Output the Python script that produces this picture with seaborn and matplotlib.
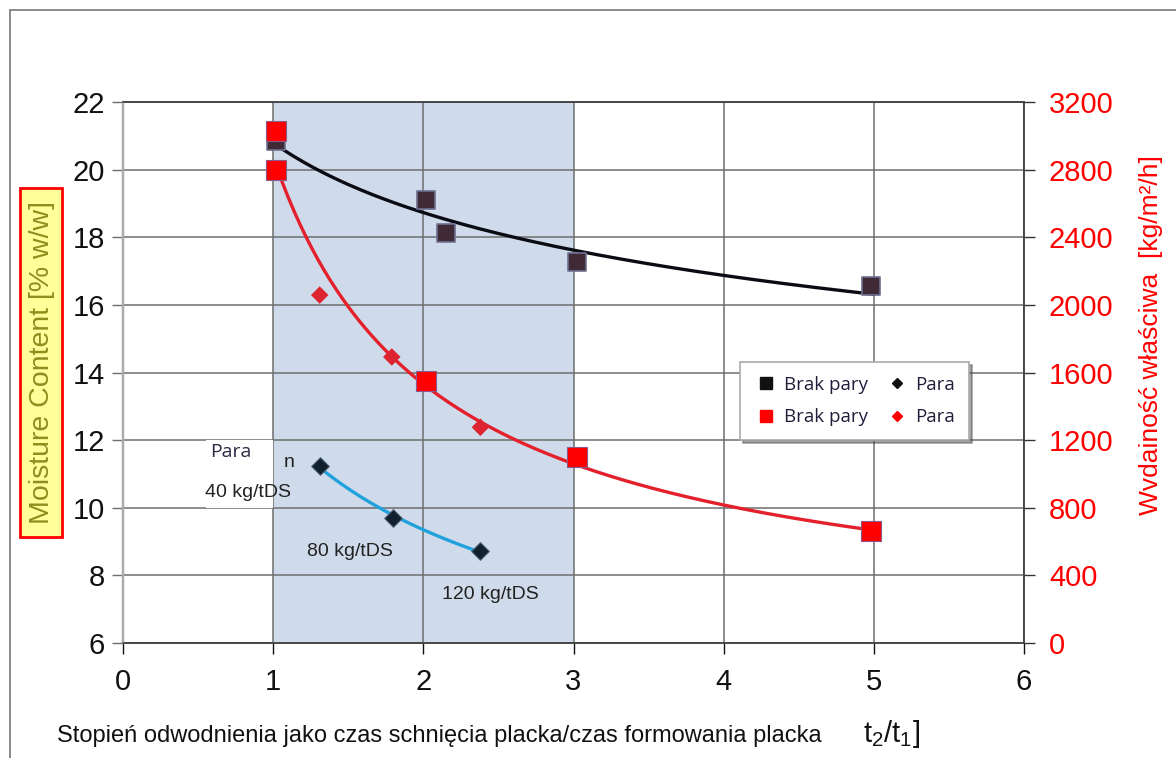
import numpy as np
import pandas as pd
import matplotlib
matplotlib.use("Agg")
import matplotlib.pyplot as plt
from matplotlib.lines import Line2D
from matplotlib.patches import Rectangle
import seaborn as sns

# --- data ---
# moisture content, no steam (left axis)
mc_dry_x = [1.02, 2.02, 2.15, 3.02, 4.98]
mc_dry_y = [20.85, 19.1, 18.12, 17.27, 16.56]
# moisture content, with steam (left axis)
mc_steam_x = [1.31, 1.80, 2.38]
mc_steam_y = [11.23, 9.70, 8.72]
# specific throughput, no steam (right axis)
thr_dry_x = [1.02, 1.02, 2.02, 3.02, 4.98]
thr_dry_y = [3030, 2800, 1550, 1100, 662]
# specific throughput, with steam (right axis)
thr_steam_x = [1.31, 1.79, 2.38]
thr_steam_y = [2058, 1692, 1276]

steam_labels = ["40 kg/tDS", "80 kg/tDS", "120 kg/tDS"]

RED = "#FF0000"
SHADE = "#CFDBEA"
GRID = "#6e6e6e"


def power_fit(x, y, x0, x1):
    # Excel-style power trendline fitted in log-log space
    b, a = np.polyfit(np.log(x), np.log(y), 1)
    xs = np.linspace(x0, x1, 200)
    return pd.DataFrame({"x": xs, "y": np.exp(a) * xs ** b})


sns.set_theme(style="white")
plt.rcParams["font.family"] = ["Liberation Sans", "DejaVu Sans"]

fig = plt.figure(figsize=(11.76, 7.58), dpi=100)
ax = fig.add_axes([123 / 1176, 1 - 643 / 758, 901 / 1176, 541 / 758])
ax2 = ax.twinx()

# shaded band and grid
ax.axvspan(1, 3, color=SHADE, zorder=0.2, lw=0)
ax.set_xlim(0, 6)
ax.set_ylim(6, 22)
ax.set_xticks(range(0, 7))
ax.set_yticks(range(6, 23, 2))
ax.grid(True, color=GRID, lw=1.1, zorder=0.5)
ax.set_axisbelow(True)

# white box behind the "Para" note
ax.add_patch(Rectangle((0.55, 10), 0.45, 2, facecolor="white", edgecolor="none", zorder=0.8))

# moisture series
fit_dry = power_fit(mc_dry_x, mc_dry_y, 1.02, 5.0)
sns.lineplot(data=fit_dry, x="x", y="y", ax=ax, color="#0b0b14", lw=2.4, estimator=None, zorder=3)
sns.scatterplot(x=mc_dry_x, y=mc_dry_y, ax=ax, marker="s", s=150, color="#3f2a36",
                edgecolor="#6c6f92", linewidth=1.2, zorder=4)

fit_steam = power_fit(mc_steam_x, mc_steam_y, 1.31, 2.38)
sns.lineplot(data=fit_steam, x="x", y="y", ax=ax, color="#22a2dc", lw=2.4, estimator=None, zorder=3)
sns.scatterplot(x=mc_steam_x, y=mc_steam_y, ax=ax, marker="D", s=80, color="#10202c",
                edgecolor="#4a5a70", linewidth=0.8, zorder=4)

# throughput series (right axis)
ax2.set_ylim(0, 3200)
ax2.set_yticks(range(0, 3201, 400))
fit_thr = power_fit(thr_dry_x + thr_steam_x, thr_dry_y + thr_steam_y, 1.02, 4.98)
sns.lineplot(data=fit_thr, x="x", y="y", ax=ax2, color="#e3202b", lw=2.4, estimator=None, zorder=3)
sns.scatterplot(x=thr_dry_x, y=thr_dry_y, ax=ax2, marker="s", s=210, color=RED,
                edgecolor="#8a5a8a", linewidth=0.8, zorder=4)
sns.scatterplot(x=thr_steam_x, y=thr_steam_y, ax=ax2, marker="D", s=80, color="#dc2530",
                edgecolor="none", zorder=4)

# ticks and spines
ax.set_xlabel("")
ax.set_ylabel("")
ax2.set_xlabel("")
ax2.set_ylabel("")
ax.tick_params(axis="both", labelsize=21, colors="#111111", length=8, width=1, direction="out",
               left=True, bottom=True)
ax.tick_params(axis="x", pad=10)
ax.tick_params(axis="y", color=GRID, pad=5)
ax2.tick_params(axis="y", labelsize=21, labelcolor=RED, color="#333333", length=8, width=1,
                direction="out", right=True, pad=10)
for a in (ax, ax2):
    for side in ("top", "right", "bottom"):
        a.spines[side].set_color("#444444")
        a.spines[side].set_linewidth(1.1)
    a.spines["left"].set_color("#aaaaaa")
    a.spines["left"].set_linewidth(1.6)

# annotations
ax.text(0.58, 11.64, "Para", fontsize=14, color="#2a2a44", family=["Open Sans", "DejaVu Sans"],
        va="center", zorder=5)
ax.text(1.07, 11.35, "n", fontsize=14, color="#222222", va="center", zorder=5)
label_pos = [(0.546, 10.46), (1.225, 8.72), (2.124, 7.44)]
for (tx, ty), lab in zip(label_pos, steam_labels):
    ax.text(tx, ty, lab, fontsize=14, color="#222222", va="center", zorder=5)

# legend
handles = [
    Line2D([], [], ls="none", marker="s", ms=8, color="#111111"),
    Line2D([], [], ls="none", marker="s", ms=8, color=RED),
    Line2D([], [], ls="none", marker="D", ms=5.5, color="#111111"),
    Line2D([], [], ls="none", marker="D", ms=5.5, color=RED),
]
leg = ax2.legend(handles, ["Brak pary", "Brak pary", "Para", "Para"], ncol=2,
                 loc="upper left", bbox_to_anchor=(740 / 1176, 1 - 362 / 758),
                 bbox_transform=fig.transFigure, borderaxespad=0,
                 frameon=True, fancybox=False, shadow=True,
                 prop={"family": ["Open Sans", "DejaVu Sans"], "size": 13.5},
                 handletextpad=0.3, columnspacing=0.9, labelspacing=0.75,
                 borderpad=0.75, handlelength=1.3)
leg.get_frame().set_edgecolor("#aaaaaa")
leg.get_frame().set_linewidth(1.2)
for t in leg.get_texts():
    t.set_color("#1f1f3c")

# axis titles
fig.add_artist(Rectangle((20 / 1176, 1 - 537 / 758), 42 / 1176, 349 / 758, transform=fig.transFigure,
                         facecolor="#FFFF99", edgecolor=RED, lw=2))
fig.text(42 / 1176, 1 - 362 / 758, "Moisture Content [% w/w]", rotation=90, fontsize=20.5,
         color="#8f8d1e", ha="center", va="center")
fig.text(1151 / 1176, 1 - 335 / 758, "Wvdainość właściwa  [kg/m²/h]", rotation=90,
         fontsize=19, color=RED, ha="center", va="center")
fig.text(57 / 1176, 1 - 736 / 758, "Stopień odwodnienia jako czas schnięcia placka/czas formowania placka",
         fontsize=17, color="#111111", ha="left", va="center")
fig.text(863 / 1176, 1 - 734 / 758, r"$\mathregular{t_2/t_1}$]", fontsize=21, color="#111111",
         ha="left", va="center")

# outer frame lines (top and left)
fig.add_artist(Line2D([10 / 1176, 1], [1 - 10 / 758, 1 - 10 / 758], color="#777777", lw=1.2,
                      transform=fig.transFigure))
fig.add_artist(Line2D([10 / 1176, 10 / 1176], [0, 1 - 10 / 758], color="#777777", lw=1.2,
                      transform=fig.transFigure))

fig.savefig("out.png", dpi=100)
